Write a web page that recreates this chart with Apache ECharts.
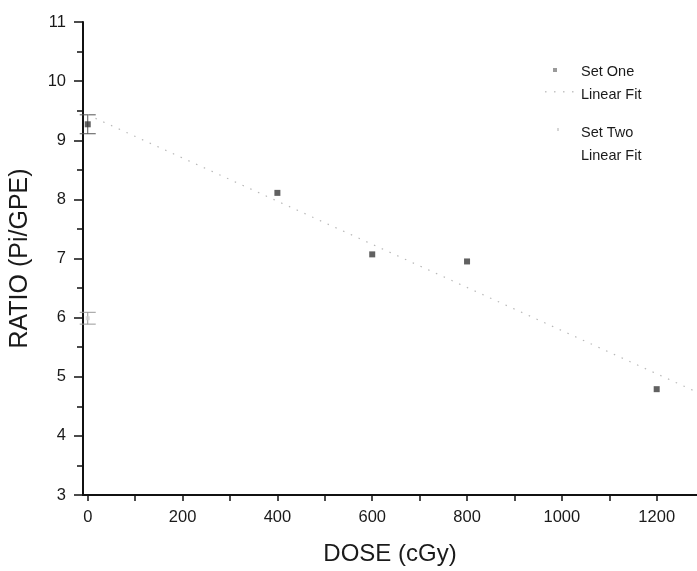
<!DOCTYPE html>
<html>
<head>
<meta charset="utf-8">
<script src="https://cdn.jsdelivr.net/npm/echarts@6/dist/echarts.min.js"></script>
<style>html,body{margin:0;padding:0;background:#fff}#c{width:697px;height:571px}</style>
</head>
<body>
<div id="c"></div>
<script>
// ---- data ----
var setOneX = [0, 400, 600, 800, 1200];
var setOneY = [9.27, 8.11, 7.07, 6.95, 4.79];
var setOneLow = [9.11, 8.11, 7.07, 6.95, 4.79];
var setOneHigh = [9.43, 8.11, 7.07, 6.95, 4.79];
var setOneFitX = [0, 1285];
var setOneFitY = [9.43, 4.74];
var setTwoX = [0];
var setTwoY = [5.99];
var setTwoLow = [5.89];
var setTwoHigh = [6.09];
var xTicks = [0, 100, 200, 300, 400, 500, 600, 700, 800, 900, 1000, 1100, 1200];
var xLabels = [0, 200, 400, 600, 800, 1000, 1200];
var legendNames = ['Set One', 'Linear Fit', 'Set Two', 'Linear Fit '];

function pairs(xs, ys) { return xs.map(function (x, i) { return [x, ys[i]]; }); }
function errData(xs, lo, hi) { return xs.map(function (x, i) { return [x, lo[i], hi[i]]; }).filter(function (d) { return d[1] !== d[2]; }); }

function errRender(color) {
  return function (params, api) {
    var x = api.value(0);
    var lo = api.coord([x, api.value(1)]);
    var hi = api.coord([x, api.value(2)]);
    var w = 8;
    var st = { stroke: color, lineWidth: 1 };
    return {
      type: 'group',
      children: [
        { type: 'line', shape: { x1: hi[0], y1: hi[1], x2: lo[0], y2: lo[1] }, style: st },
        { type: 'line', shape: { x1: hi[0] - w, y1: hi[1], x2: hi[0] + w, y2: hi[1] }, style: st },
        { type: 'line', shape: { x1: lo[0] - w, y1: lo[1], x2: lo[0] + w, y2: lo[1] }, style: st }
      ]
    };
  };
}

var chart = echarts.init(document.getElementById('c'), null, { renderer: 'canvas' });
var font = 'Liberation Sans, Arial, sans-serif';
var legendText = { color: '#1a1a1a', fontSize: 14.5, lineHeight: 13, fontFamily: font };
function hiddenItem(n) { return { name: n, itemStyle: { opacity: 0 }, lineStyle: { opacity: 0 } }; }

// legend icon graphics (faint, as in the scan)
var dots = [];
for (var k = 0; k < 4; k++) {
  dots.push({ type: 'rect', shape: { x: 545 + k * 9, y: 91, width: 1.5, height: 1.5 }, style: { fill: '#c4c4c4' } });
}

chart.setOption({
  backgroundColor: '#fff',
  animation: false,
  grid: { left: 83, right: 0, top: 22, bottom: 75, containLabel: false },
  xAxis: {
    type: 'value', min: -10, max: 1285,
    name: 'DOSE (cGy)', nameLocation: 'middle', nameGap: 47,
    nameTextStyle: { fontSize: 24, fontFamily: font, color: '#1a1a1a' },
    axisLine: { show: true, onZero: false, lineStyle: { color: '#111', width: 2 } },
    axisTick: { show: true, length: 6, customValues: xTicks, lineStyle: { color: '#111', width: 1.5 } },
    axisLabel: { customValues: xLabels, margin: 14, fontSize: 16.5, fontFamily: font, color: '#1a1a1a',
      formatter: function (v) { return String(v); } },
    splitLine: { show: false }
  },
  yAxis: {
    type: 'value', min: 3, max: 11, interval: 1,
    name: 'RATIO (Pi/GPE)', nameLocation: 'middle', nameGap: 50, nameRotate: 90,
    nameTextStyle: { fontSize: 25, fontFamily: font, color: '#1a1a1a' },
    axisLine: { show: true, onZero: false, lineStyle: { color: '#111', width: 2 } },
    axisTick: { show: true, length: 9, lineStyle: { color: '#111', width: 1.5 } },
    minorTick: { show: true, splitNumber: 2, length: 6, lineStyle: { color: '#111', width: 1.5 } },
    axisLabel: { margin: 17, fontSize: 16.5, fontFamily: font, color: '#1a1a1a' },
    splitLine: { show: false }
  },
  legend: [
    {
      orient: 'vertical', left: 545, top: 64.5, itemGap: 8, itemWidth: 30, itemHeight: 13, padding: 0,
      textStyle: legendText, data: [hiddenItem(legendNames[0]), hiddenItem(legendNames[1])]
    },
    {
      orient: 'vertical', left: 545, top: 125.5, itemGap: 8, itemWidth: 30, itemHeight: 13, padding: 0,
      textStyle: legendText, data: [hiddenItem(legendNames[2]), hiddenItem(legendNames[3])],
      formatter: function (n) { return n.trim(); }
    }
  ],
  graphic: [
    { type: 'rect', shape: { x: 553, y: 68, width: 4, height: 4 }, style: { fill: '#9a9a9a' } },
    { type: 'rect', shape: { x: 557, y: 128, width: 2, height: 3 }, style: { fill: '#d6d6d6' } }
  ].concat(dots),
  series: [
    {
      name: legendNames[1], type: 'line', data: pairs(setOneFitX, setOneFitY),
      symbol: 'none', silent: true,
      lineStyle: { color: '#b8b8b8', width: 1.2, type: [1.5, 7] },
      itemStyle: { color: '#b8b8b8' }
    },
    {
      name: legendNames[3], type: 'line', data: [],
      symbol: 'none',
      lineStyle: { color: '#f2f2f2', width: 1, type: [1, 8] },
      itemStyle: { color: '#f2f2f2' }
    },
    {
      name: legendNames[0], type: 'custom', renderItem: errRender('#555'),
      data: errData(setOneX, setOneLow, setOneHigh), encode: { x: 0, y: [1, 2] }, z: 3
    },
    {
      name: legendNames[2], type: 'custom', renderItem: errRender('#999'),
      data: errData(setTwoX, setTwoLow, setTwoHigh), encode: { x: 0, y: [1, 2] }, z: 3
    },
    {
      name: legendNames[0], type: 'scatter', data: pairs(setOneX, setOneY),
      symbol: 'rect', symbolSize: 6, itemStyle: { color: '#3a3a3a' }, z: 4
    },
    {
      name: legendNames[2], type: 'scatter', data: pairs(setTwoX, setTwoY),
      symbol: 'rect', symbolSize: 4, itemStyle: { color: '#cfcfcf' }, z: 4
    }
  ]
});
</script>
</body>
</html>
